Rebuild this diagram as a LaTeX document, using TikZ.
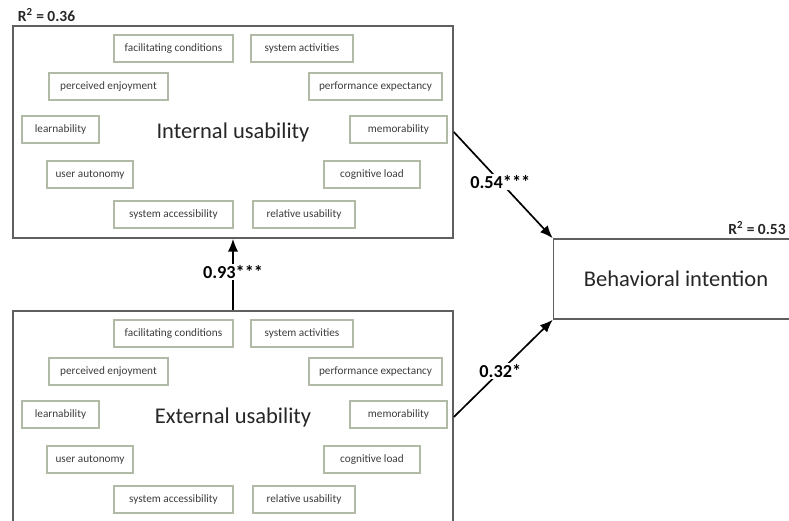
\documentclass[tikz,border=0pt]{standalone}
\usepackage{fontspec}
\setmainfont{Carlito}
\usetikzlibrary{arrows.meta, positioning}
\definecolor{itemline}{RGB}{176,186,166}
\definecolor{itemtext}{RGB}{60,60,60}
\definecolor{boxline}{RGB}{95,95,95}
\tikzset{
  construct/.style={draw=boxline, line width=1.1pt, minimum width=11cm, minimum height=5.3cm,
    font=\fontsize{16}{18}\selectfont, text=black!85},
  item/.style={draw=itemline, line width=0.9pt, minimum height=0.675cm, inner sep=0pt,
    font=\fontsize{8}{9}\selectfont, text=itemtext},
  coef/.style={font=\bfseries\fontsize{13}{15}\selectfont, fill=white, inner sep=1pt},
  rsq/.style={font=\bfseries\fontsize{11}{13}\selectfont, text=black!85, inner sep=1pt},
  >={Latex[length=3.2mm,width=2.6mm]}
}

\begin{document}
\begin{tikzpicture}[x=0.025cm, y=-0.025cm]
    \clip (0,0) rectangle (789,520);

    \node[construct] (iu) at (233,132) {Internal usability};
    \node[construct] (eu) at (233,417) {External usability};
    \node[construct, minimum width=6.125cm, minimum height=2cm] (bi) at (676,279) {Behavioral intention};

    \node[rsq, anchor=south west] (iur) at ([xshift=0.1cm, yshift=0.05cm]iu.north west) {R\textsuperscript{2} = 0.36};
    \node[rsq, anchor=south east] (bir) at ([xshift=-0.3cm, yshift=0.05cm]bi.north east) {R\textsuperscript{2} = 0.53};

    % internal usability items
    \node[item, minimum width=2.975cm] (ifc) at (173.5,48.5) {facilitating conditions};
    \node[item, minimum width=2.55cm] (isa) at (302,48.5) {system activities};
    \node[item, minimum width=2.975cm] (ipe) at (108.5,86.5) {perceived enjoyment};
    \node[item, minimum width=3.325cm] (ipx) at (375.5,86.5) {performance expectancy};
    \node[item, minimum width=1.925cm] (ile) at (60.5,129.5) {learnability};
    \node[item, minimum width=2.425cm] (ime) at (398.5,129.5) {memorability};
    \node[item, minimum width=2.15cm] (iua) at (90,174.5) {user autonomy};
    \node[item, minimum width=2.4cm] (icl) at (372,174.5) {cognitive load};
    \node[item, minimum width=2.975cm] (isx) at (173.5,214.5) {system accessibility};
    \node[item, minimum width=2.55cm] (iru) at (304,214.5) {relative usability};

    % external usability items
    \node[item, minimum width=2.975cm] (efc) at (173.5,333.5) {facilitating conditions};
    \node[item, minimum width=2.55cm] (esa) at (302,333.5) {system activities};
    \node[item, minimum width=2.975cm] (epe) at (108.5,371.5) {perceived enjoyment};
    \node[item, minimum width=3.325cm] (epx) at (375.5,371.5) {performance expectancy};
    \node[item, minimum width=1.925cm] (ele) at (60.5,414.5) {learnability};
    \node[item, minimum width=2.425cm] (eme) at (398.5,414.5) {memorability};
    \node[item, minimum width=2.15cm] (eua) at (90,459.5) {user autonomy};
    \node[item, minimum width=2.4cm] (ecl) at (372,459.5) {cognitive load};
    \node[item, minimum width=2.975cm] (esx) at (173.5,499.5) {system accessibility};
    \node[item, minimum width=2.55cm] (eru) at (304,499.5) {relative usability};

    \draw[->, line width=1.2pt] (eu.north) -- node[coef, pos=0.53] {0.93***} (iu.south);
    \draw[->, line width=1.2pt] (iu.east) -- node[coef, pos=0.47] {0.54***} (bi.north west);
    \draw[->, line width=1.2pt] (eu.east) -- node[coef, pos=0.47] {0.32*} (bi.south west);
\end{tikzpicture}
\end{document}
